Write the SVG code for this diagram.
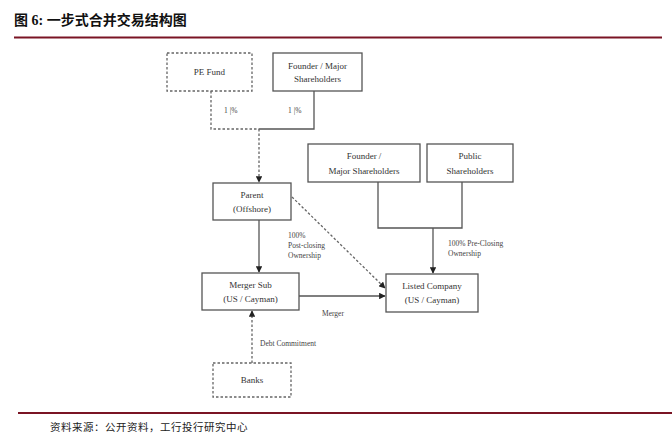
<svg xmlns="http://www.w3.org/2000/svg" width="672" height="440" viewBox="0 0 672 440">
<defs>
<marker id="ah" viewBox="0 0 10 10" refX="9" refY="5" markerWidth="5" markerHeight="5" orient="auto-start-reverse">
<path d="M0,0 L10,5 L0,10 z" fill="#222"/>
</marker>
<style>
.box{fill:#fff;stroke:#555;stroke-width:1.3}
.dbox{fill:#fff;stroke:#666;stroke-width:1.3;stroke-dasharray:2.5,2}
.t{font-family:"Liberation Serif","Times New Roman",serif;font-size:9px;fill:#333;text-anchor:middle}
.l{font-family:"Liberation Serif","Times New Roman",serif;font-size:7.5px;fill:#444}
.ln{fill:none;stroke:#555;stroke-width:1.3}
.dl{fill:none;stroke:#666;stroke-width:1.3;stroke-dasharray:2.5,2}
</style>
</defs>
<rect width="672" height="440" fill="#fff"/>
<text x="14" y="25" font-family="'Liberation Serif','Noto Sans CJK SC',serif" font-size="14" font-weight="bold" fill="#111">图 6:  一步式合并交易结构图</text>
<line x1="14" y1="37.5" x2="662" y2="37.5" stroke="#7a1424" stroke-width="2.2"/>
<line x1="18" y1="413" x2="672" y2="413" stroke="#7a1424" stroke-width="2"/>
<text x="50" y="431" font-family="'Liberation Serif','Noto Sans CJK SC',serif" font-size="10.5" fill="#222" letter-spacing="0.5">资料来源：公开资料，工行投行研究中心</text>

<g id="connectors">
<polyline class="dl" points="211,91 211,129 259,129"/>
<polyline class="ln" points="259,129 314,129 314,91"/>
<line class="dl" x1="259" y1="129" x2="259" y2="182" marker-end="url(#ah)"/>
<line class="ln" x1="259" y1="220" x2="259" y2="272" marker-end="url(#ah)"/>
<line class="dl" x1="292" y1="197" x2="385" y2="288" marker-end="url(#ah)"/>
<line class="ln" x1="299" y1="296" x2="385" y2="296" marker-end="url(#ah)"/>
<polyline class="ln" points="378,182 378,228 462,228 462,182"/>
<line class="ln" x1="433" y1="228" x2="433" y2="273" marker-end="url(#ah)"/>
<line class="dl" x1="252" y1="363" x2="252" y2="311" marker-end="url(#ah)"/>
<text class="l" x="224" y="113">1 |%</text>
<text class="l" x="288" y="113">1 |%</text>
<text class="l" x="288" y="238">100%</text>
<text class="l" x="288" y="248">Post-closing</text>
<text class="l" x="288" y="258">Ownership</text>
<text class="l" x="448" y="246">100% Pre-Closing</text>
<text class="l" x="448" y="256">Ownership</text>
<text class="l" x="322" y="316">Merger</text>
<text class="l" x="260" y="346">Debt Commitment</text>
</g>

<g id="pe-fund">
<rect class="dbox" x="167" y="53" width="85" height="38"/>
<text class="t" x="209.5" y="75">PE Fund</text>
</g>
<g id="founder-major-1">
<rect class="box" x="273" y="53" width="89" height="38"/>
<text class="t" x="317.5" y="69">Founder / Major</text>
<text class="t" x="317.5" y="82">Shareholders</text>
</g>
<g id="parent">
<rect class="box" x="213" y="183" width="78" height="37"/>
<text class="t" x="252" y="198">Parent</text>
<text class="t" x="252" y="212">(Offshore)</text>
</g>
<g id="founder-major-2">
<rect class="box" x="308" y="144" width="112" height="38"/>
<text class="t" x="364" y="159">Founder /</text>
<text class="t" x="364" y="174">Major Shareholders</text>
</g>
<g id="public-shareholders">
<rect class="box" x="427" y="144" width="86" height="38"/>
<text class="t" x="470" y="159">Public</text>
<text class="t" x="470" y="174">Shareholders</text>
</g>
<g id="merger-sub">
<rect class="box" x="202" y="273" width="97" height="37"/>
<text class="t" x="250.5" y="288">Merger Sub</text>
<text class="t" x="250.5" y="302">(US / Cayman)</text>
</g>
<g id="listed-company">
<rect class="box" x="386" y="274" width="92" height="38"/>
<text class="t" x="432" y="289">Listed Company</text>
<text class="t" x="432" y="303">(US / Cayman)</text>
</g>
<g id="banks">
<rect class="dbox" x="213" y="363" width="78" height="34"/>
<text class="t" x="252" y="383">Banks</text>
</g>
</svg>
